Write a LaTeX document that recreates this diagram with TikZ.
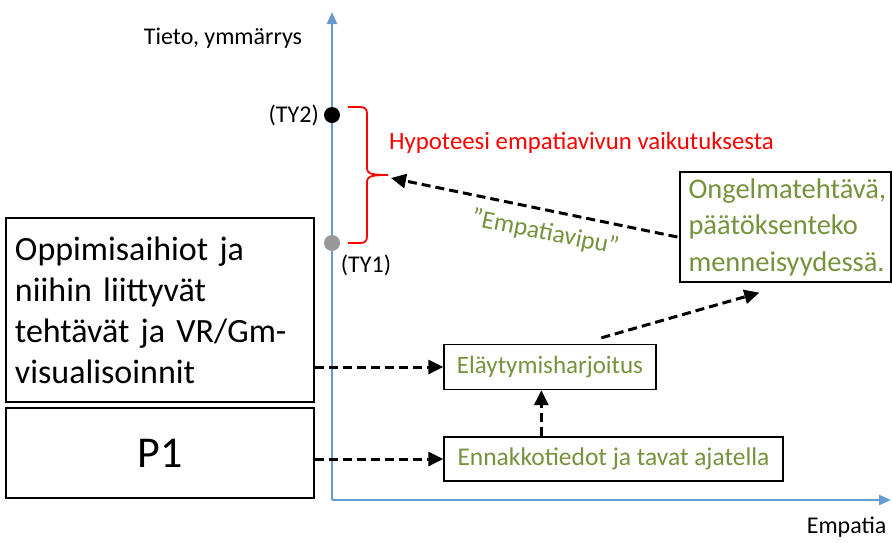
\documentclass[tikz,border=0pt]{standalone}
\usepackage{fontspec}
\setmainfont{Carlito}
\usetikzlibrary{arrows.meta,calc}
\definecolor{axisblue}{RGB}{104,154,210}
\definecolor{olive}{RGB}{118,146,60}
\tikzset{
  axisline/.style={draw=axisblue, line width=2.5pt, -{Triangle[length=12pt,width=10pt]}},
  dasharrow/.style={draw=black, line width=3pt, dash pattern=on 9pt off 5pt, -{Triangle[length=15pt,width=14pt]}},
  boxnode/.style={draw=black, line width=1.3pt, inner sep=0pt},
  greentext/.style={text=olive},
  lbl/.style={font=\fontsize{24}{28}\selectfont},
}
\begin{document}
\begin{tikzpicture}[x=1pt,y=-1pt]
\useasboundingbox (0,0) rectangle (892,542);
% axes
\coordinate (origin) at (332,500);
\coordinate (ytop) at (332,12);
\coordinate (xend) at (891,500);
\draw[axisline] (origin) -- (ytop);
\draw[axisline] (origin) -- (xend);
\node[lbl] (ylab) at (223,38) {Tieto, ymmärrys};
\node[lbl, anchor=east] (xlab) at (890,527) {Empatia};
% dots
\node[circle, fill=black, minimum size=16pt, inner sep=0pt] (ty2) at (332,115) {};
\node[circle, fill=gray!80, minimum size=16pt, inner sep=0pt] (ty1) at (332,243) {};
\node[lbl, anchor=east, inner sep=1pt] (ty2lab) at (320,115) {(TY2)};
\node[lbl] (ty1lab) at (366,265) {(TY1)};
% brace
\coordinate (btop) at (348,107);
\coordinate (bbot) at (348,243);
\coordinate (btip) at (388,175);
\draw[red, line width=1.8pt] (btop) -- (360,107) .. controls (365,107) and (367,109) .. (367,114) -- (367,168) .. controls (367,173) and (369,175) .. (btip);
\draw[red, line width=1.8pt] (bbot) -- (360,243) .. controls (365,243) and (367,241) .. (367,236) -- (367,182) .. controls (367,177) and (369,175) .. (btip);
\node[text=red, font=\fontsize{24.8}{28}\selectfont, anchor=west, inner sep=1pt] (hyp) at (388,143) {Hypoteesi empatiavivun vaikutuksesta};
% boxes
\node[boxnode, minimum width=308pt, minimum height=184pt, text width=290pt, align=left,
      font=\fontsize{34}{41}\selectfont] (box1) at (160,310)
  {Oppimisaihiot ja\\ niihin liittyvät\\ tehtävät ja VR/Gm-\\ visualisoinnit};
\node[boxnode, minimum width=308pt, minimum height=90pt, font=\fontsize{44}{50}\selectfont] (p1) at (160,453) {P1};
\node[boxnode, minimum width=212pt, minimum height=45pt, greentext, font=\fontsize{25}{28}\selectfont] (elay) at (550,367) {Eläytymisharjoitus};
\node[boxnode, minimum width=339pt, minimum height=44pt, greentext, font=\fontsize{25.5}{28}\selectfont] (enn) at (613.5,459) {Ennakkotiedot ja tavat ajatella};
\node[boxnode, minimum width=211pt, minimum height=110pt, text width=194pt, align=left, greentext,
      font=\fontsize{28.5}{36.5}\selectfont] (ong) at (785.5,227)
  {Ongelmatehtävä,\\ päätöksenteko\\ menneisyydessä.};
% connectors
\draw[dasharrow] (box1.east |- elay.west) -- (elay.west);
\draw[dasharrow] (p1.east |- enn.west) -- (enn.west);
\coordinate (ennup) at ($(enn.north west)+(98,0)$);
\draw[dasharrow] (ennup) -- (ennup |- elay.south);
\coordinate (a1) at ($(elay.north west)+(158,-6)$);
\coordinate (a2) at ($(ong.south west)+(80,10)$);
\draw[dasharrow] (a1) -- (a2);
\coordinate (ongout) at ($(ong.west)+(-2,10)$);
\coordinate (btipend) at (391,178);
\draw[dasharrow] (ongout) -- (btipend);
\node[greentext, font=\fontsize{25.5}{28}\selectfont, rotate=-11.5] (lever) at (545,233) {"Empatiavipu"};
\end{tikzpicture}
\end{document}
